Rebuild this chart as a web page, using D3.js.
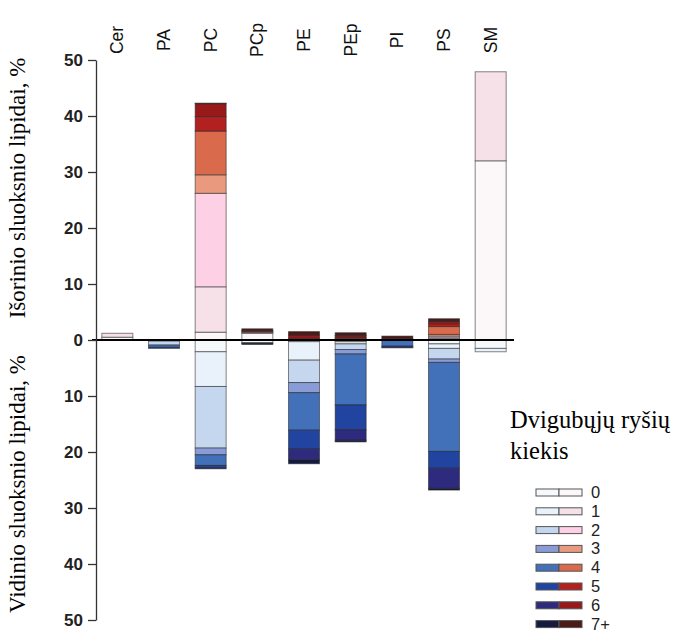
<!DOCTYPE html>
<html>
<head>
<meta charset="utf-8">
<script src="https://cdn.jsdelivr.net/npm/d3@7"></script>
<style>
	body { margin: 0; background: #fff; }
	svg { display: block; }
</style>
</head>
<body>
<svg id="chart" width="695" height="632"></svg>
<script>
// lipid classes and double bond counts
var categories = ["Cer", "PA", "PC", "PCp", "PE", "PEp", "PI", "PS", "SM"];
var levels = ["0", "1", "2", "3", "4", "5", "6", "7+"];

// outer leaflet, % (one row per category, columns = levels)
var outerValues = [
	[0.5, 0.7, 0, 0, 0, 0, 0, 0],
	[0, 0, 0, 0, 0, 0, 0, 0],
	[1.4, 8.1, 16.7, 3.3, 7.8, 2.6, 2.3, 0.1],
	[1.2, 0.2, 0, 0, 0, 0.1, 0.2, 0.3],
	[0, 0, 0, 0, 0.1, 0.2, 0.6, 0.6],
	[0.1, 0, 0, 0, 0.2, 0.2, 0.3, 0.5],
	[0, 0, 0, 0, 0, 0, 0.2, 0.5],
	[0.2, 0.2, 0.3, 0.3, 1.4, 0.5, 0.4, 0.5],
	[32.0, 15.9, 0, 0, 0, 0, 0, 0]
];

// inner leaflet, %
var innerValues = [
	[0, 0, 0, 0, 0, 0, 0, 0],
	[0, 0.2, 0.7, 0, 0.4, 0.2, 0, 0],
	[2.1, 6.2, 11.0, 1.2, 1.9, 0.4, 0.2, 0],
	[0.5, 0, 0, 0, 0, 0, 0.1, 0.2],
	[0.3, 3.3, 4.0, 1.8, 6.7, 3.4, 1.9, 0.7],
	[0.3, 0.4, 1.0, 0.8, 9.1, 4.4, 1.9, 0.3],
	[0, 0, 0, 0.1, 1.0, 0.2, 0.1, 0],
	[0.7, 0.8, 1.9, 0.6, 15.9, 3.0, 3.6, 0.3],
	[1.5, 0.6, 0, 0, 0, 0, 0, 0]
];

var yTicks = [-50, -40, -30, -20, -10, 0, 10, 20, 30, 40, 50];

var blues = ["#f5f9fb", "#e9f2fa", "#c5d7ef", "#8a9cd8", "#4271b9", "#2144a0", "#2e2a7e", "#141a40"];
var reds = ["#fcf8fa", "#f6e1e8", "#fdd0e6", "#e99a7e", "#d96a4c", "#b2201f", "#97191a", "#4c1a17"];

var svg = d3.select("#chart");

var axisX = 96,
	plotRight = 514;

var x = d3.scaleBand()
	.domain(categories)
	.range([94, plotRight])
	.paddingInner(0.336)
	.paddingOuter(0.168);

var y = d3.scaleLinear()
	.domain([-50, 50])
	.range([620, 60]);

function rows(values, sign) {
	return categories.map(function(c, i) {
		var o = {cat: c};
		levels.forEach(function(l, j) { o[l] = values[i][j] * sign; });
		return o;
	});
}

var stack = d3.stack()
	.keys(levels)
	.offset(d3.stackOffsetDiverging);

function drawStack(values, sign, colors, cls) {
	var series = stack(rows(values, sign));
	var g = svg.append("g").attr("class", cls);
	var layer = g.selectAll("g")
		.data(series)
		.enter().append("g")
		.attr("fill", function(d, i) { return colors[i]; });

	layer.selectAll("rect")
		.data(function(d) { return d.filter(function(p) { return p[1] - p[0] !== 0; }); })
		.enter().append("rect")
		.attr("x", function(d) { return x(d.data.cat); })
		.attr("width", x.bandwidth())
		.attr("y", function(d) { return y(Math.max(d[0], d[1])); })
		.attr("height", function(d) { return Math.abs(y(d[0]) - y(d[1])); })
		.attr("stroke", "#222")
		.attr("stroke-opacity", 0.55)
		.attr("stroke-width", 1);
}

drawStack(outerValues, 1, reds, "outer");
drawStack(innerValues, -1, blues, "inner");

// zero line
svg.append("line")
	.attr("x1", axisX - 4)
	.attr("x2", plotRight)
	.attr("y1", y(0))
	.attr("y2", y(0))
	.attr("stroke", "#000")
	.attr("stroke-width", 2);

// y axis
var yAxis = d3.axisLeft(y)
	.tickValues(yTicks)
	.tickSize(8)
	.tickSizeOuter(0)
	.tickPadding(5)
	.tickFormat(function(d) { return Math.abs(d); });

var ag = svg.append("g")
	.attr("transform", "translate(" + axisX + ",0)")
	.call(yAxis);
ag.select(".domain").attr("stroke", "#333").attr("stroke-width", 1.3);
ag.selectAll(".tick line").attr("stroke", "#333").attr("stroke-width", 1.3);
ag.selectAll(".tick text")
	.attr("font-family", "Liberation Sans, Arial, sans-serif")
	.attr("font-size", 17)
	.attr("font-weight", "bold")
	.attr("fill", "#222");

// category labels on top
svg.append("g").selectAll("text")
	.data(categories)
	.enter().append("text")
	.attr("transform", function(d) {
		return "translate(" + (x(d) + x.bandwidth() / 2 + 6) + ",40) rotate(-90)";
	})
	.attr("text-anchor", "middle")
	.attr("font-family", "Liberation Sans, Arial, sans-serif")
	.attr("font-size", 17.5)
	.attr("fill", "#111")
	.text(function(d) { return d; });

// y titles
svg.append("text")
	.attr("transform", "translate(25,188) rotate(-90)")
	.attr("text-anchor", "middle")
	.attr("font-family", "Liberation Serif, Times New Roman, serif")
	.attr("font-size", 23)
	.text("Išorinio sluoksnio lipidai, %");

svg.append("text")
	.attr("transform", "translate(25,484) rotate(-90)")
	.attr("text-anchor", "middle")
	.attr("font-family", "Liberation Serif, Times New Roman, serif")
	.attr("font-size", 23)
	.text("Vidinio sluoksnio lipidai, %");

// legend
var legend = svg.append("g").attr("class", "legend");
legend.append("text")
	.attr("x", 510).attr("y", 428)
	.attr("font-family", "Liberation Serif, Times New Roman, serif")
	.attr("font-size", 24.5)
	.text("Dvigubųjų ryšių");
legend.append("text")
	.attr("x", 510).attr("y", 459)
	.attr("font-family", "Liberation Serif, Times New Roman, serif")
	.attr("font-size", 24.5)
	.text("kiekis");

var item = legend.selectAll("g.item")
	.data(levels)
	.enter().append("g")
	.attr("class", "item")
	.attr("transform", function(d, i) { return "translate(536," + (492.5 + i * 18.8) + ")"; });

item.append("rect")
	.attr("x", 0).attr("y", -3.5)
	.attr("width", 23).attr("height", 7)
	.attr("fill", function(d, i) { return blues[i]; })
	.attr("stroke", "#555").attr("stroke-width", 1);
item.append("rect")
	.attr("x", 23).attr("y", -3.5)
	.attr("width", 23).attr("height", 7)
	.attr("fill", function(d, i) { return reds[i]; })
	.attr("stroke", "#555").attr("stroke-width", 1);
item.append("text")
	.attr("x", 55).attr("y", 5.5)
	.attr("font-family", "Liberation Sans, Arial, sans-serif")
	.attr("font-size", 16.5)
	.attr("fill", "#222")
	.text(function(d) { return d; });
</script>
</body>
</html>
